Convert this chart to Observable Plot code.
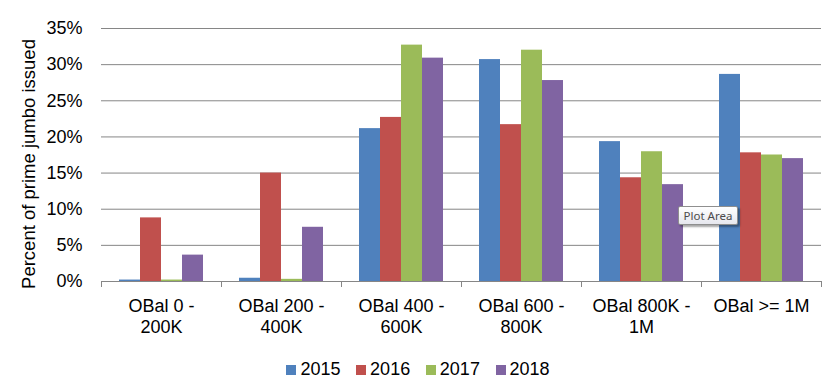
<!DOCTYPE html>
<html><head><meta charset="utf-8">
<script src="https://cdn.jsdelivr.net/npm/d3@7"></script>
<script src="https://cdn.jsdelivr.net/npm/@observablehq/plot@0.6"></script>
<style>
body{margin:0;background:#fff;}
#wrap{position:relative;width:834px;height:389px;overflow:hidden;background:#fff;font-family:"Liberation Sans",Arial,sans-serif;}
#chart{position:absolute;left:0;top:0;}
#legend{position:absolute;left:0;top:359px;width:834px;padding-left:2px;box-sizing:border-box;}
#legend > div{justify-content:center !important;min-height:0 !important;margin:0 !important;}
#legend span{margin-right:15.7px !important;}
#legend span:last-child{margin-right:0 !important;}
#legend span > svg{margin-right:4px !important;}
#tip{position:absolute;left:678px;top:206px;width:58px;height:17px;border:1px solid #8f8f8f;border-radius:2px;
 background:linear-gradient(#ffffff,#e6e7ee);box-shadow:2px 2px 2px rgba(0,0,0,.35);
 font:11.5px "Noto Sans",sans-serif;color:#4b4b4b;text-align:center;line-height:17px;}
</style></head>
<body><div id="wrap"><div id="chart"></div><div id="legend"></div><div id="tip">Plot Area</div></div>
<script>
const categories = ["OBal 0 - 200K","OBal 200 - 400K","OBal 400 - 600K","OBal 600 - 800K","OBal 800K - 1M","OBal >= 1M"];
const categoryLabels = ["OBal 0 -\n200K","OBal 200 -\n400K","OBal 400 -\n600K","OBal 600 -\n800K","OBal 800K -\n1M","OBal >= 1M"];
const years = ["2015","2016","2017","2018"];
const values2015 = [0.2, 0.45, 21.15, 30.7, 19.35, 28.65];
const values2016 = [8.8, 15.0, 22.7, 21.7, 14.35, 17.8];
const values2017 = [0.2, 0.3, 32.7, 32.0, 17.95, 17.5];
const values2018 = [3.65, 7.5, 30.9, 27.8, 13.4, 17.0];
const colors = ["#4F81BD","#C0504D","#9BBB59","#8064A2"];
const yTicks = [0,5,10,15,20,25,30,35];
const yLabel = "Percent of prime jumbo issued";

const series = [values2015, values2016, values2017, values2018];
const rows = [];
years.forEach((yr, i) => categories.forEach((c, j) => rows.push({year: yr, category: c, value: series[i][j]})));

const font = "'Liberation Sans', Arial, sans-serif";
const plot = Plot.plot({
  width: 834, height: 344,
  marginLeft: 100, marginRight: 12, marginTop: 28, marginBottom: 63,
  style: {fontFamily: font, fontSize: "18px", color: "#000", background: "#fff", overflow: "visible"},
  fx: {domain: categories, padding: 0},
  x: {domain: years, paddingInner: 0, paddingOuter: 0.75},
  y: {domain: [0, 35]},
  color: {domain: years, range: colors},
  marks: [
    Plot.gridY(yTicks.filter(d => d > 0), {stroke: "#868686", strokeOpacity: 1}),
    Plot.barY(rows, {fx: "category", x: "year", y: "value", fill: "year"}),
    Plot.ruleY([0], {stroke: "#868686"}),
    Plot.axisY(yTicks, {tickSize: 0, tickPadding: 19, tickFormat: d => d + "%", label: null, fontSize: 18}),
    Plot.axisFx({anchor: "bottom", tickSize: 0, tickPadding: 15, lineHeight: 1.2, label: null, fontSize: 18,
      tickFormat: c => categoryLabels[categories.indexOf(c)]}),
    Plot.axisX({ticks: [], label: null}),
    Plot.text([yLabel], {facet: "super", frameAnchor: "left", textAnchor: "middle", rotate: -90, dx: -80, dy: 9,
      lineAnchor: "top", fontSize: 18.5, fill: "#000"})
  ]
});
document.getElementById("chart").appendChild(plot);

// category boundary tick marks on the category axis
const fxS = plot.scale("fx");
const yS = plot.scale("y");
const y0 = yS.apply(0);
const bounds = categories.map(c => fxS.apply(c)).concat([fxS.apply(categories[categories.length - 1]) + fxS.bandwidth]);
d3.select(plot).append("g").attr("stroke", "#868686")
  .selectAll("line").data(bounds).join("line")
  .attr("x1", d => Math.round(d) + 0.5).attr("x2", d => Math.round(d) + 0.5)
  .attr("y1", Math.round(y0)).attr("y2", Math.round(y0) + 6);

const legend = Plot.legend({
  color: {type: "ordinal", domain: years, range: colors},
  legend: "swatches", swatchSize: 10, className: "lg",
  style: {fontFamily: font, fontSize: "18px", color: "#000"}
});
document.getElementById("legend").appendChild(legend);
</script>
</body></html>
